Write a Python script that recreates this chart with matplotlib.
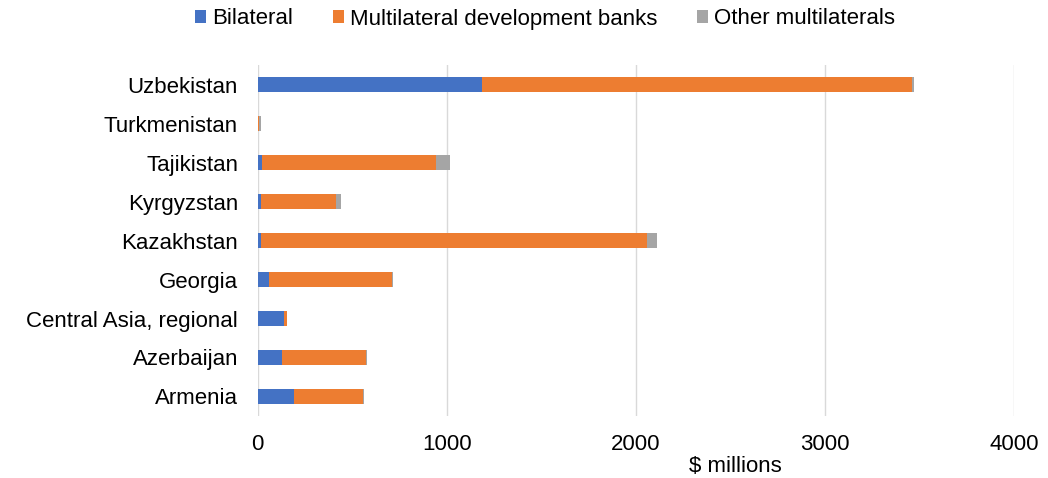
# Horizontal stacked bars: aid by donor type, per country
import matplotlib.pyplot as plt

plt.rcParams['font.family'] = ['Liberation Sans', 'DejaVu Sans']

# Data ($ millions), bottom to top
countries = ['Armenia', 'Azerbaijan', 'Central Asia, regional', 'Georgia',
             'Kazakhstan', 'Kyrgyzstan', 'Tajikistan', 'Turkmenistan', 'Uzbekistan']
bilateral = [194, 132, 141, 61, 19, 19, 25, 0, 1186]
mdb = [362, 440, 14, 651, 2039, 394, 919, 10, 2277]
other = [9, 8, 0, 5, 53, 30, 74, 6, 7]
xticks = [0, 1000, 2000, 3000, 4000]

fig = plt.figure(figsize=(10.48, 4.78), dpi=100)
ax = fig.add_axes([257.5 / 1048, 1 - 416 / 478, (1014 - 257.5) / 1048, 351 / 478])

h = 0.41
ax.barh(countries, bilateral, height=h, color='#4472C4', label='Bilateral')
ax.barh(countries, mdb, height=h, left=bilateral, color='#ED7D31',
        label='Multilateral development banks')
left2 = [b + m for b, m in zip(bilateral, mdb)]
ax.barh(countries, other, height=h, left=left2, color='#A5A5A5', label='Other multilaterals')

ax.set_xlim(0, 4000)
ax.set_ylim(-0.5, 8.5)
ax.set_xticks(xticks)
ax.grid(axis='x', color='#d9d9d9', linewidth=1)
ax.set_axisbelow(True)
for s in ax.spines.values():
    s.set_visible(False)
ax.tick_params(length=0, labelsize=16, colors='#000000')
ax.tick_params(axis='y', pad=14)
ax.tick_params(axis='x', pad=13)

fig.text(735 / 1048, 1 - 466 / 478, '$ millions', fontsize=16, ha='center', va='center')

fig.legend(loc='center', bbox_to_anchor=(545 / 1048, 1 - 19 / 478), ncol=3, frameon=False,
           fontsize=16, handlelength=0.5, handleheight=0.5, handletextpad=0.25,
           columnspacing=1.8)

fig.savefig('out.png', dpi=100)
